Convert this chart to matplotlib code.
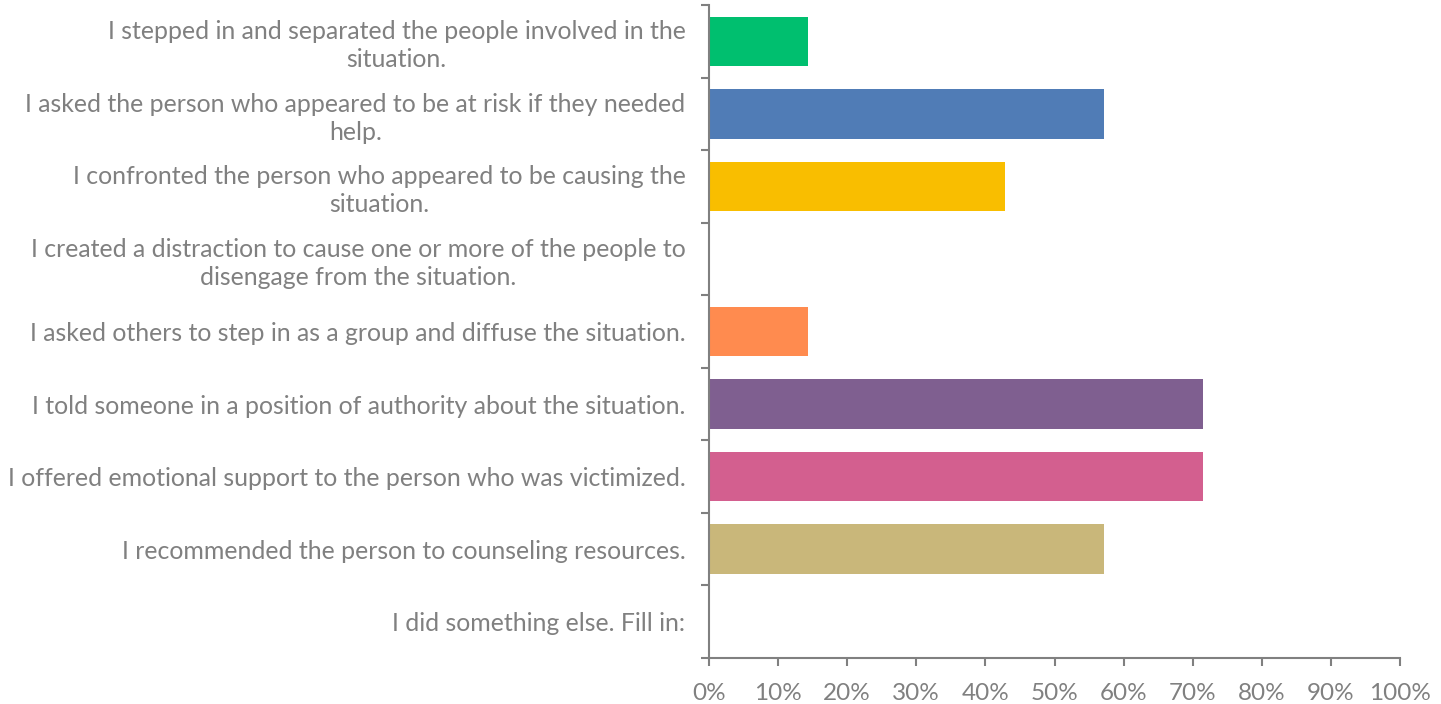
import matplotlib
matplotlib.use("Agg")
import matplotlib.pyplot as plt
from matplotlib.ticker import FixedLocator, PercentFormatter

categories = [
    "I stepped in and separated the people involved in the\nsituation.",
    "I asked the person who appeared to be at risk if they needed\nhelp.",
    "I confronted the person who appeared to be causing the\nsituation.",
    "I created a distraction to cause one or more of the people to\ndisengage from the situation.",
    "I asked others to step in as a group and diffuse the situation.",
    "I told someone in a position of authority about the situation.",
    "I offered emotional support to the person who was victimized.",
    "I recommended the person to counseling resources.",
    "I did something else. Fill in:",
]
values = [14.29, 57.14, 42.86, 0.0, 14.29, 71.43, 71.43, 57.14, 0.0]
colors = ["#00BF6F", "#507CB6", "#F9BE00", "#6BC8CD", "#FF8B4F",
          "#7F5F90", "#D35F8F", "#C9B77A", "#A2A2A2"]
xticks = [0, 10, 20, 30, 40, 50, 60, 70, 80, 90, 100]

gray = "#808080"
plt.rcParams["font.family"] = ["Lato", "DejaVu Sans"]

fig = plt.figure(figsize=(14.41, 7.04), dpi=100)
ax = fig.add_axes([709/1441, 1-658/704, (1400-709)/1441, (658-5)/704])

n = len(categories)
ypos = list(range(n))
ax.barh(ypos, values, height=0.68, color=colors)
ax.set_ylim(n - 0.5, -0.5)
ax.set_xlim(0, 100)

ax.set_yticks(ypos)
ax.set_yticklabels(categories, ha="right", multialignment="center", linespacing=1.25)
ax.yaxis.set_minor_locator(FixedLocator([i - 0.5 for i in range(n + 1)]))
ax.tick_params(axis="y", which="major", length=0, pad=17, labelsize=17.9, labelcolor=gray)
ax.tick_params(axis="y", which="minor", length=6, width=1.5, color=gray)

ax.set_xticks(xticks)
ax.xaxis.set_major_formatter(PercentFormatter(decimals=0))
ax.tick_params(axis="x", length=6, width=1.5, color=gray, labelsize=17.5, labelcolor=gray, pad=12)

for s in ["top", "right"]:
    ax.spines[s].set_visible(False)
for s in ["left", "bottom"]:
    ax.spines[s].set_color(gray)
    ax.spines[s].set_linewidth(1.5)

fig.savefig("out.png", dpi=100)
